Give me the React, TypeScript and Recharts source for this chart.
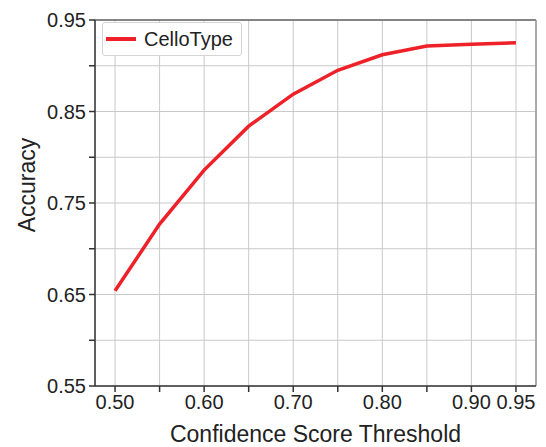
import React from 'react';
import { LineChart, Line, XAxis, YAxis, CartesianGrid, Legend, ReferenceLine } from 'recharts';

const thresholds = [0.5, 0.55, 0.6, 0.65, 0.7, 0.75, 0.8, 0.85, 0.9, 0.95];
const accuracy = [0.654, 0.727, 0.786, 0.834, 0.869, 0.895, 0.912, 0.9215, 0.9234, 0.9252];
const xTickLabels = ['0.50', '', '0.60', '', '0.70', '', '0.80', '', '0.90', '0.95'];
const yTicks = [0.55, 0.6, 0.65, 0.7, 0.75, 0.8, 0.85, 0.9, 0.95];
const yTickLabels = ['0.55', '', '0.65', '', '0.75', '', '0.85', '', '0.95'];

const data = thresholds.map((t, i) => ({ t, acc: accuracy[i] }));

const FONT = '"Liberation Sans", Arial, Helvetica, sans-serif';
const RED = '#ee2129';

const renderLegend = () => (
  <div
    style={{
      width: 138,
      height: 32,
      border: '1px solid #d4d4d4',
      borderRadius: 3,
      background: '#fff',
      display: 'flex',
      alignItems: 'center',
      fontFamily: FONT,
      fontSize: 20,
      color: '#222',
    }}
  >
    <span style={{ display: 'inline-block', width: 30, height: 4, background: RED, marginLeft: 3 }} />
    <span style={{ marginLeft: 8 }}>CelloType</span>
  </div>
);

const YLabel = () => (
  <text
    x={27}
    y={185}
    transform="rotate(-90, 27, 185)"
    textAnchor="middle"
    dominantBaseline="central"
    fontFamily={FONT}
    fontSize={23}
    fill="#222"
  >
    Accuracy
  </text>
);

export default function App() {
  return (
    <div style={{ position: 'absolute', left: 0, top: 0, background: '#fff' }}>
      <LineChart width={546} height={447} data={data} margin={{ top: 20, right: 10, bottom: 0, left: 0 }}>
        <CartesianGrid stroke="#c9c9c9" strokeWidth={1} />
        <XAxis
          dataKey="t"
          type="number"
          domain={[0.4775, 0.9725]}
          ticks={thresholds}
          interval={0}
          allowDataOverflow
          height={61}
          tickSize={6}
          tickMargin={3}
          tickFormatter={(_v: number, i: number) => xTickLabels[i]}
          stroke="#333"
          strokeWidth={1.5}
          tick={{ fill: '#222', fontSize: 20, fontFamily: FONT }}
          label={{ value: 'Confidence Score Threshold', position: 'insideBottom', offset: 5, fill: '#222', fontSize: 23, fontFamily: FONT }}
        />
        <YAxis
          type="number"
          domain={[0.55, 0.95]}
          ticks={yTicks}
          interval={0}
          width={95}
          tickSize={6}
          tickMargin={3}
          tickFormatter={(_v: number, i: number) => yTickLabels[i]}
          stroke="#333"
          strokeWidth={1.5}
          tick={{ fill: '#222', fontSize: 20, fontFamily: FONT }}
          label={<YLabel />}
        />
        <ReferenceLine y={0.95} stroke="#666" strokeWidth={1.5} />
        <ReferenceLine x={0.9725} stroke="#999" strokeWidth={1.5} />
        <Legend
          layout="horizontal"
          verticalAlign="middle"
          align="center"
          content={renderLegend}
          wrapperStyle={{ left: 102, top: 22, width: 140, height: 34 }}
        />
        <Line
          type="linear"
          dataKey="acc"
          name="CelloType"
          stroke={RED}
          strokeWidth={3.5}
          dot={false}
          isAnimationActive={false}
        />
      </LineChart>
    </div>
  );
}
